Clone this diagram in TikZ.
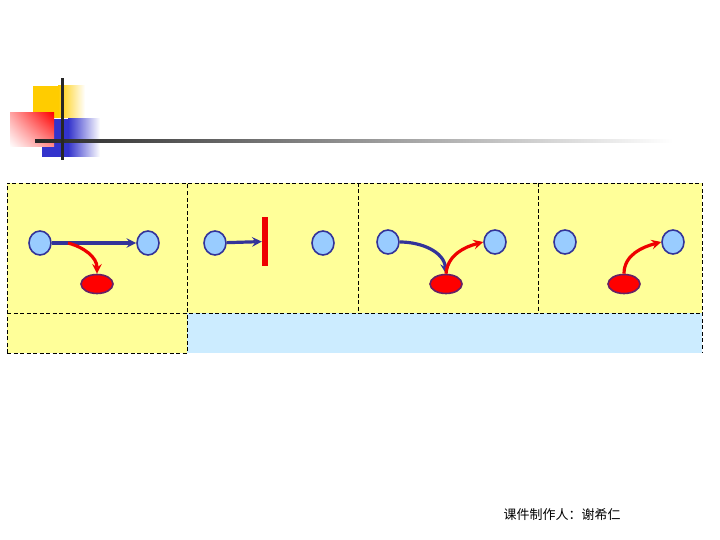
\documentclass[tikz,border=0pt]{standalone}
\usepackage{fontspec}
\newfontfamily\cjk{Noto Sans CJK SC}
\usepackage{tikz}
\usetikzlibrary{positioning,shapes.geometric,arrows,shadings}

\definecolor{cellyellow}{RGB}{255,255,153}
\definecolor{cellblue}{RGB}{204,236,255}
\definecolor{dotblue}{RGB}{153,204,255}
\definecolor{navy}{RGB}{51,51,153}
\definecolor{hotred}{RGB}{238,0,0}
\definecolor{plum}{RGB}{102,34,102}
\definecolor{gold}{RGB}{255,204,0}
\definecolor{deepblue}{RGB}{51,51,204}

\begin{document}
\begin{tikzpicture}[
  x=1pt, y=-1pt,
  dot/.style={ellipse, draw=navy, line width=1.6pt, fill=dotblue, minimum width=22pt, minimum height=24pt, inner sep=0pt},
  blob/.style={ellipse, draw=plum, line width=1.6pt, fill=red, minimum width=32pt, minimum height=19pt, inner sep=0pt},
  grid/.style={line width=0.8pt, dash pattern=on 4pt off 2.5pt},
  blueedge/.style={->, draw=navy, line width=3.2pt},
  rededge/.style={->, draw=hotred, line width=3.2pt},
  >=stealth
]
\useasboundingbox (0,0) rectangle (720,540);

% title logo
\fill[gold] (33,86) rectangle (58,118);
\shade[left color=gold, right color=white] (58,86) rectangle (85,118);
\fill[deepblue] (42,119) rectangle (68,157);
\shade[left color=deepblue, right color=white] (68,119) rectangle (100,157);
\shade[upper right=red, upper left=red!35, lower right=red!45, lower left=white] (10,113) rectangle (54,147);
\shade[left color=black!85, right color=white] (35,139.5) rectangle (673,142.5);
\fill[black!85] (60.5,78) rectangle (63.5,160);

% table
\fill[cellyellow] (7,183) rectangle (702,313);
\fill[cellyellow] (7,313) rectangle (187,353);
\fill[cellblue] (187,313) rectangle (702,353);
\draw[grid] (7,353) -- (7,183) -- (702,183) -- (702,353);
\draw[grid] (7,313) -- (702,313);
\draw[grid] (7,353) -- (187,353) -- (187,183);
\draw[grid] (358,183) -- (358,313);
\draw[grid] (538,183) -- (538,313);

% cell 1
\node[dot] (a1) at (40,243) {};
\node[dot] (b1) at (148,243) {};
\node[blob] (e1) at (97,284) {};
\coordinate (s1) at (68,243);
\draw[blueedge] (a1) -- (b1);
\draw[rededge] (s1) to[out=-15,in=90] (e1);

% cell 2
\node[dot] (a2) at (215,243) {};
\node[dot] (b2) at (323,243) {};
\node[draw=none, fill=hotred, minimum width=6pt, minimum height=49pt, inner sep=0pt] (bar) at (265,241.5) {};
\draw[blueedge] (a2) -- (bar);

% cell 3
\node[dot] (a3) at (388,242) {};
\node[dot] (b3) at (495,242) {};
\node[blob] (e3) at (446,284) {};
\draw[blueedge] (a3.east) to[out=0,in=95] (e3.north);
\draw[rededge] (e3.north) to[out=85,in=195] (b3.west);

% cell 4
\node[dot] (a4) at (565,242) {};
\node[dot] (b4) at (673,242) {};
\node[blob] (e4) at (624,284) {};
\draw[rededge] (e4.north) to[out=90,in=195] (b4.west);

% footer
\node[font=\cjk\fontsize{13}{15}\selectfont] (author) at (562,515) {课件制作人：谢希仁};
\end{tikzpicture}
\end{document}
